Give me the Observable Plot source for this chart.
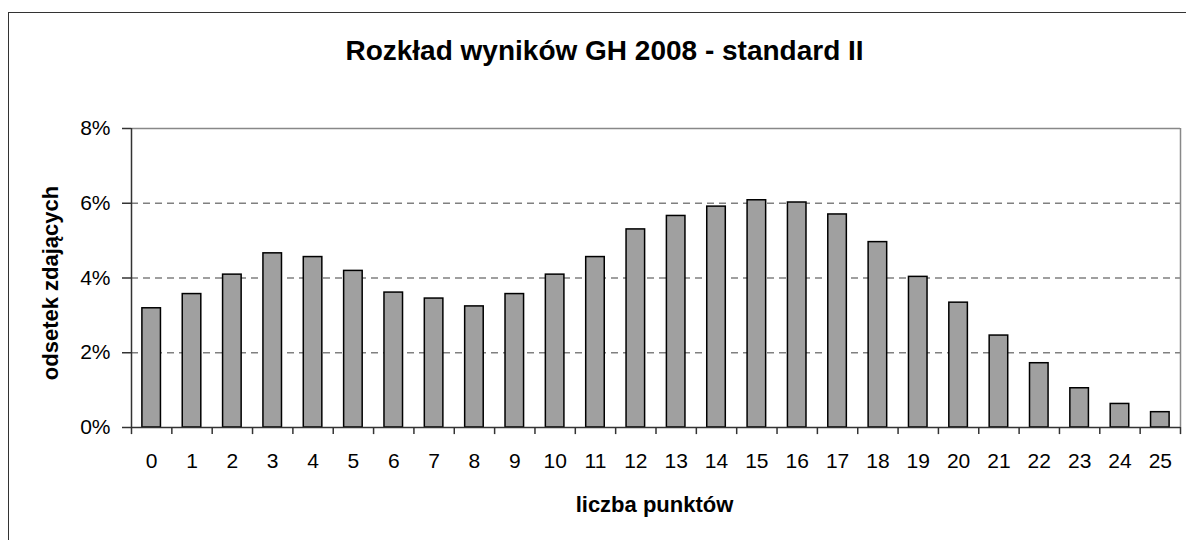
<!DOCTYPE html>
<html><head><meta charset="utf-8">
<script src="https://cdn.jsdelivr.net/npm/d3@7"></script>
<script src="https://cdn.jsdelivr.net/npm/@observablehq/plot@0.6"></script>
<style>
html,body{margin:0;padding:0;background:#fff;}
#wrap{position:relative;width:1186px;height:540px;overflow:hidden;font-family:"Liberation Sans",Arial,sans-serif;}
#frame{position:absolute;left:8px;top:12px;width:1300px;height:700px;border-left:1.5px solid #333;border-top:1.5px solid #333;}
#chart{position:absolute;left:0;top:0;}
</style></head>
<body><div id="wrap"><div id="frame"></div><div id="chart"></div></div>
<script>
const categories = d3.range(0, 26);
const values = [3.19,3.57,4.09,4.66,4.56,4.19,3.61,3.45,3.24,3.57,4.09,4.56,5.30,5.66,5.91,6.08,6.02,5.70,4.96,4.03,3.34,2.46,1.72,1.05,0.63,0.41];
const yTicks = [0,2,4,6,8];
const title = "Rozkład wyników GH 2008 - standard II";
const yLabel = "odsetek zdających";
const xLabel = "liczba punktów";

const data = categories.map((c,i)=>({k:c, v:values[i]}));
const W = 1186, H = 540, mL = 131, mR = 6, mT = 128, mB = 113;
const step = (W - mL - mR) / categories.length;
const frameCx = (mL + W - mR) / 2;

const plot = Plot.plot({
  width: W, height: H,
  marginLeft: mL, marginRight: mR, marginTop: mT, marginBottom: mB,
  style: {fontFamily: '"Liberation Sans", Arial, sans-serif', background: "transparent", overflow: "visible"},
  x: {type: "band", domain: categories, paddingInner: 0.54, paddingOuter: 0.27, round: false, label: null},
  y: {domain: [0, 8], label: null},
  marks: [
    Plot.ruleY(yTicks.filter(t => t > 0 && t < 8), {y: d => d, stroke: "#808080", strokeWidth: 1.5, strokeDasharray: "7,5"}),
    Plot.ruleY([8], {stroke: "#888", strokeWidth: 1.5}),
    Plot.ruleX([categories[categories.length-1]], {dx: step/2, y1: 0, y2: 8, stroke: "#888", strokeWidth: 1.5}),
    Plot.barY(data, {x: "k", y: "v", fill: "#a0a0a0", stroke: "#000", strokeWidth: 1.5}),
    Plot.ruleY([0], {stroke: "#333", strokeWidth: 1.5}),
    Plot.ruleX([categories[0]], {dx: -step/2, y1: 0, y2: 8, stroke: "#333", strokeWidth: 1.5}),
    Plot.ruleX(categories, {dx: step/2, y1: 0, y2: -0.19, stroke: "#333", strokeWidth: 1.5}),
    Plot.ruleX([categories[0]], {dx: -step/2, y1: 0, y2: -0.19, stroke: "#333", strokeWidth: 1.5}),
    Plot.axisY(yTicks, {tickSize: 9, tickPadding: 12, tickFormat: d => d + "%", fontSize: 21, stroke: "#333", strokeWidth: 1.5, fill: "#000", label: null}),
    Plot.axisX(categories, {tickSize: 0, tickPadding: 26, fontSize: 21, fill: "#000", label: null}),
    Plot.text([title], {frameAnchor: "top", lineAnchor: "middle", dx: 604 - frameCx, dy: -77, fontSize: 28, fontWeight: "bold", fill: "#000"}),
    Plot.text([xLabel], {frameAnchor: "bottom", lineAnchor: "middle", dx: 654 - frameCx, dy: 77, fontSize: 22, fontWeight: "bold", fill: "#000"}),
    Plot.text([yLabel], {frameAnchor: "left", textAnchor: "middle", lineAnchor: "middle", dx: -81, dy: 5, rotate: -90, fontSize: 22, fontWeight: "bold", fill: "#000"})
  ]
});
document.getElementById("chart").appendChild(plot);
</script></body></html>
